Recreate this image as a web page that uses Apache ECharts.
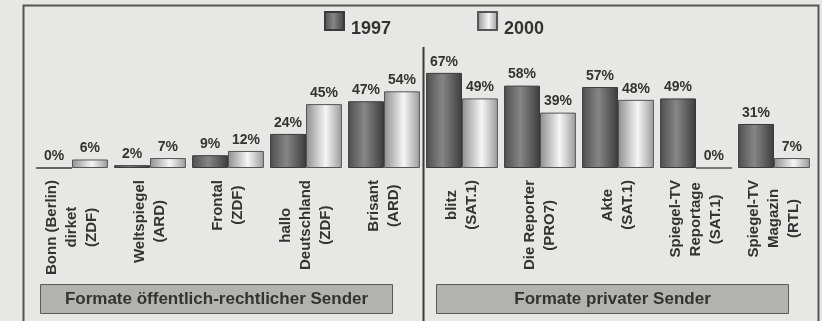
<!DOCTYPE html>
<html>
<head>
<meta charset="utf-8">
<script src="https://cdn.jsdelivr.net/npm/echarts@6/dist/echarts.min.js"></script>
<style>
  html, body { margin: 0; padding: 0; background: #e7e7e5; }
  #chart { width: 822px; height: 321px; }
</style>
</head>
<body>
<div id="chart"></div>
<script>
const categories = [
    'Bonn (Berlin)\ndirket\n(ZDF)',
    'Weltspiegel\n(ARD)',
    'Frontal\n(ZDF)',
    'hallo\nDeutschland\n(ZDF)',
    'Brisant\n(ARD)',
    'blitz\n(SAT.1)',
    'Die Reporter\n(PRO7)',
    'Akte\n(SAT.1)',
    'Spiegel-TV\nReportage\n(SAT.1)',
    'Spiegel-TV\nMagazin\n(RTL)'
];
const values1997 = [0, 2, 9, 24, 47, 67, 58, 57, 49, 31];
const values2000 = [6, 7, 12, 45, 54, 49, 39, 48, 0, 7];
const groupTitles = ['Formate öffentlich-rechtlicher Sender', 'Formate privater Sender'];

const FONT = '"Liberation Sans", Arial, sans-serif';
const TEXT = '#333';

let myChart = echarts.init(document.getElementById('chart'));

// Die gedrehten Zeilen stehen rechtsbündig; damit sie mittig wirken,
// bekommt jede kürzere Zeile am Ende einen unsichtbaren Füller.
const ctx = document.createElement('canvas').getContext('2d');
ctx.font = 'bold 15px ' + FONT;
const lineWidths = categories.map(c => c.split('\n').map(s => ctx.measureText(s).width));
ctx.font = '5px ' + FONT;
const fillW = ctx.measureText('i').width;

function labelFormatter(v, i) {
    const ws = lineWidths[i];
    const maxW = Math.max.apply(null, ws);
    return v.split('\n').map(function (s, j) {
        const k = Math.round((maxW - ws[j]) / 2 / fillW);
        return '{c|' + s + '}' + (k > 0 ? '{f|' + 'i'.repeat(k) + '}' : '');
    }).join('\n');
}

// dunkle und helle "Zylinder"-Verläufe wie im Original
const dark = new echarts.graphic.LinearGradient(0, 0, 1, 0, [
    { offset: 0, color: '#4e4e4e' },
    { offset: 0.45, color: '#868686' },
    { offset: 1, color: '#3c3c3c' }
]);
const light = new echarts.graphic.LinearGradient(0, 0, 1, 0, [
    { offset: 0, color: '#8f8f8f' },
    { offset: 0.55, color: '#f6f6f6' },
    { offset: 1, color: '#9a9a9a' }
]);

const valueLabel = {
    show: true,
    position: 'top',
    distance: 4,
    formatter: '{c}%',
    fontFamily: FONT,
    fontWeight: 'bold',
    fontSize: 14,
    color: TEXT
};

function box(x, text) {
    return {
        type: 'group',
        children: [
            {
                type: 'rect',
                shape: { x: x, y: 284.5, width: 352, height: 29 },
                style: { fill: '#b2b2b0', stroke: '#5a5a5a', lineWidth: 1 }
            },
            {
                type: 'text',
                x: x + 176, y: 299,
                style: {
                    text: text, align: 'center', verticalAlign: 'middle',
                    font: 'bold 17px ' + FONT, fill: TEXT
                }
            }
        ]
    };
}

let option = {
    backgroundColor: '#e7e7e5',
    animation: false,
    legend: {
        left: 319,
        top: 6,
        icon: 'rect',
        itemWidth: 19,
        itemHeight: 18,
        itemGap: 86,
        selectedMode: false,
        formatter: '{t|{name}}',
        textStyle: {
            rich: {
                t: {
                    padding: [16, 0, 0, 2],
                    fontFamily: FONT, fontWeight: 'bold', fontSize: 18, color: TEXT
                }
            }
        },
        data: ['1997', '2000']
    },
    grid: { left: 33, right: 9, top: 26, bottom: 153, containLabel: false, outerBoundsMode: 'none' },
    xAxis: {
        type: 'category',
        data: categories,
        axisLine: { show: false },
        axisTick: { show: false },
        axisLabel: {
            interval: 0,
            rotate: 90,
            margin: 12,
            lineHeight: 20,
            formatter: labelFormatter,
            rich: {
                c: {
                    fontFamily: FONT, fontWeight: 'bold', fontSize: 15,
                    lineHeight: 20, color: TEXT
                },
                f: {
                    fontFamily: FONT, fontSize: 5,
                    lineHeight: 20, color: 'rgba(0,0,0,0)'
                }
            }
        }
    },
    yAxis: {
        type: 'value',
        min: 0,
        max: 100,
        show: false
    },
    series: [
        {
            name: '1997',
            type: 'bar',
            data: values1997,
            barGap: '0%',
            barCategoryGap: '8%',
            itemStyle: { color: dark, borderColor: '#3a3a3a', borderWidth: 1 },
            label: valueLabel
        },
        {
            name: '2000',
            type: 'bar',
            data: values2000,
            itemStyle: { color: light, borderColor: '#555', borderWidth: 1 },
            label: valueLabel
        }
    ],
    graphic: [
        {
            type: 'rect',
            shape: { x: 23.5, y: 5.5, width: 795, height: 340 },
            style: { fill: 'none', stroke: '#555', lineWidth: 2 },
            silent: true
        },
        {
            type: 'line',
            shape: { x1: 423.5, y1: 47, x2: 423.5, y2: 321 },
            style: { stroke: '#3a3a3a', lineWidth: 2 },
            silent: true
        },
        box(40.5, groupTitles[0]),
        box(436.5, groupTitles[1])
    ]
};
myChart.setOption(option);

window.addEventListener('resize', function () {
    myChart.resize();
});
</script>
</body>
</html>
